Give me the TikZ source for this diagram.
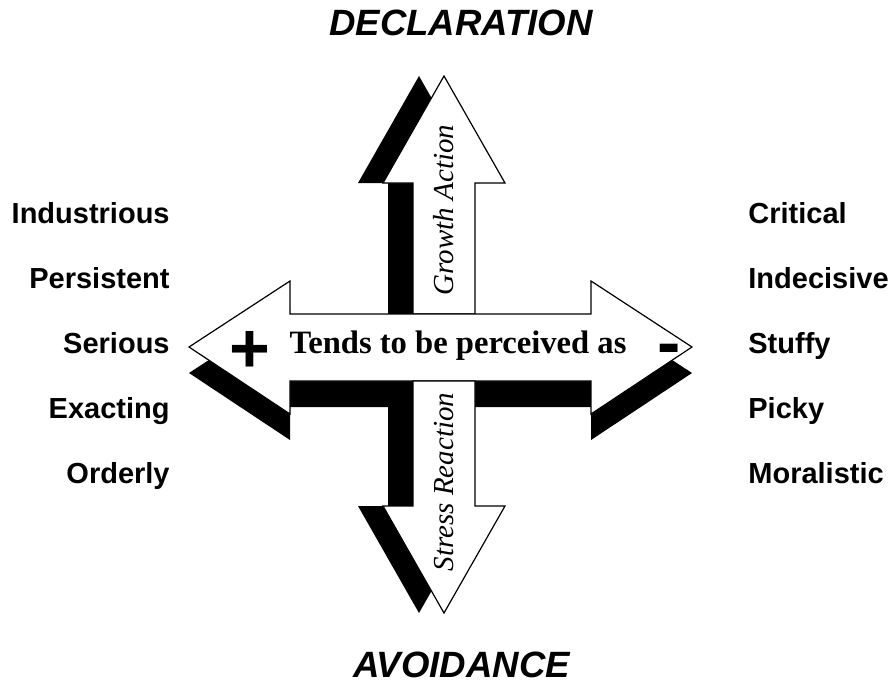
\documentclass[tikz,border=0pt]{standalone}
\usepackage{fontspec}
\setmainfont{Liberation Serif}
\setsansfont{Liberation Sans}
\usepackage{tikz}

\begin{document}
\begin{tikzpicture}[x=0.5pt,y=-0.5pt,
	shade/.style={fill=black},
	body/.style={fill=white,draw=black,line width=0.6pt,line join=miter},
	head/.style={font=\sffamily\bfseries\itshape\fontsize{18.3}{20}\selectfont,anchor=base},
	trait/.style={font=\sffamily\bfseries\fontsize{14.5}{17}\selectfont,inner sep=0pt},
	axis/.style={font=\itshape\fontsize{14.5}{17}\selectfont,rotate=90,anchor=base},
	sign/.style={font=\sffamily\bfseries\fontsize{35}{35}\selectfont,anchor=base}]
	\useasboundingbox (0,0) rectangle (896,687);
	% shadows
	\fill[shade,xshift=-12.5pt] (413,314) -- (413,183) -- (383,183) -- (444,76) -- (505,183) -- (475,183) -- (475,314) -- cycle;
	\fill[shade,yshift=-13pt] (189,347) -- (290,281) -- (290,314) -- (591,314) -- (591,281) -- (692,347) -- (591,414) -- (591,381) -- (290,381) -- (290,414) -- cycle;
	\fill[shade,xshift=-12.5pt] (413,381) -- (413,506) -- (383,506) -- (444,613) -- (505,506) -- (475,506) -- (475,381) -- cycle;
	% arrows
	\filldraw[body] (413,314) -- (413,183) -- (383,183) -- (444,76) -- (505,183) -- (475,183) -- (475,314) -- cycle;
	\filldraw[body] (189,347) -- (290,281) -- (290,314) -- (591,314) -- (591,281) -- (692,347) -- (591,414) -- (591,381) -- (290,381) -- (290,414) -- cycle;
	\filldraw[body] (413,381) -- (413,506) -- (383,506) -- (444,613) -- (505,506) -- (475,506) -- (475,381) -- cycle;
	% texts
	\node[head] (DEC) at (461,35) {DECLARATION};
	\node[head] (AVO) at (461.5,677) {AVOIDANCE};
	\node[font=\bfseries\fontsize{16.3}{18}\selectfont,anchor=base] (TBP) at (458,353) {Tends to be perceived as};
	\node[axis] (GA) at (453,210) {Growth Action};
	\node[axis] (SR) at (453,482) {Stress Reaction};
	\node[sign] (PL) at (250,372) {+};
	\node[sign] (MI) at (669,366) {-};
	\node[trait,anchor=base east] (L1) at (170,223) {Industrious};
	\node[trait,anchor=base east] (L2) at (170,288) {Persistent};
	\node[trait,anchor=base east] (L3) at (170,353) {Serious};
	\node[trait,anchor=base east] (L4) at (170,418) {Exacting};
	\node[trait,anchor=base east] (L5) at (170,483) {Orderly};
	\node[trait,anchor=base west] (R1) at (748,223) {Critical};
	\node[trait,anchor=base west] (R2) at (748,288) {Indecisive};
	\node[trait,anchor=base west] (R3) at (748,353) {Stuffy};
	\node[trait,anchor=base west] (R4) at (748,418) {Picky};
	\node[trait,anchor=base west] (R5) at (748,483) {Moralistic};
\end{tikzpicture}
\end{document}
